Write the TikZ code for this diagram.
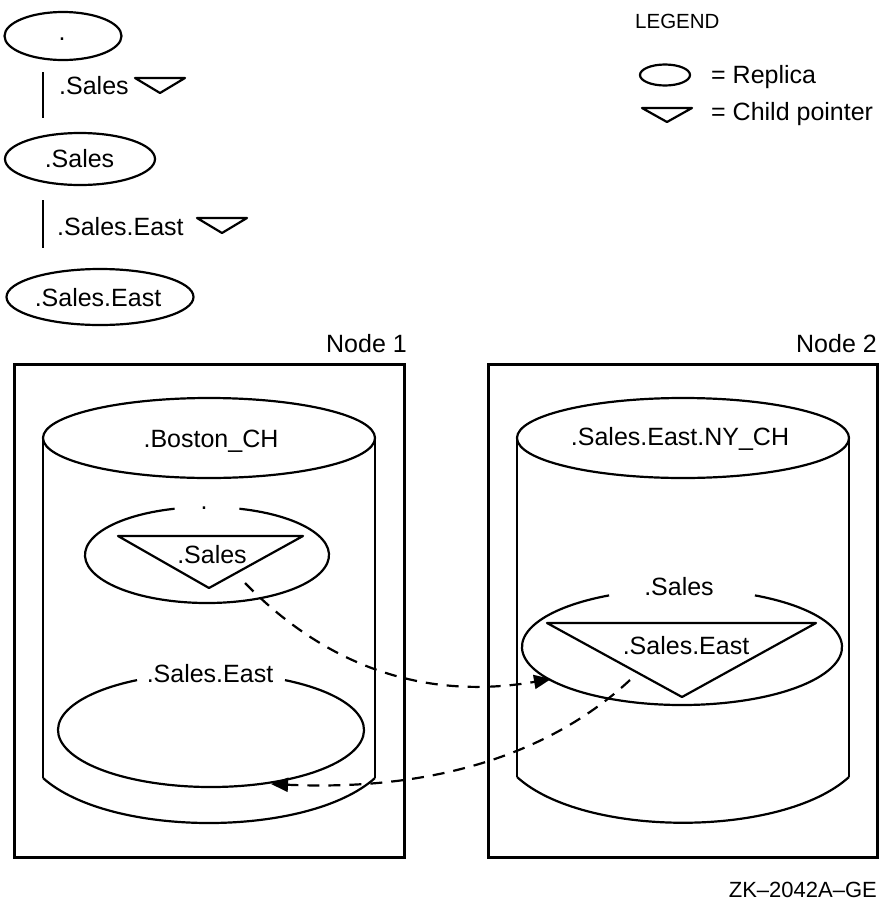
\documentclass[tikz,border=0pt]{standalone}
\usepackage{fontspec}
\setmainfont{Liberation Sans}
\usetikzlibrary{arrows.meta,shapes.geometric}
\begin{document}
\begin{tikzpicture}[x=1pt,y=-1pt,
  ln/.style={line width=2.2pt, line join=round},
  boxln/.style={line width=3pt},
  lbl/.style={font=\fontsize{25}{29}\selectfont, inner sep=0pt, anchor=base},
  repl/.style={draw, ellipse, line width=2.2pt, inner sep=0pt},
  dsh/.style={line width=2.2pt, dash pattern=on 12pt off 9pt, -{Triangle[length=17pt,width=14pt]}}]
\useasboundingbox (0,0) rectangle (880,900);

% ---------- tree on the top left ----------
\node[repl, minimum width=117pt, minimum height=48pt] (r0) at (63,36) {};
\node[lbl] (r0t) at (62,40) {.};
\draw[ln] (43,72) -- (43,118);
\node[lbl, anchor=base west] (p1) at (59,94) {.Sales};
\draw[ln] (135,78) -- (185,78) -- (160,93) -- cycle;
\node[repl, minimum width=150pt, minimum height=52pt] (r1) at (80,159) {};
\node[lbl] (r1t) at (79.5,167) {.Sales};
\draw[ln] (43,200) -- (43,248);
\node[lbl, anchor=base west] (p2) at (57,235) {.Sales.East};
\draw[ln] (197,218) -- (247,218) -- (222,233) -- cycle;
\node[repl, minimum width=187pt, minimum height=56pt] (r2) at (100,297) {};
\node[lbl] (r2t) at (98,306) {.Sales.East};

% ---------- legend ----------
\node[lbl, anchor=base west, font=\fontsize{20.5}{24}\selectfont] (leg) at (635,28) {LEGEND};
\node[repl, minimum width=50pt, minimum height=21pt] (legE) at (665,75) {};
\node[lbl, anchor=base west] (legEt) at (711,83) {= Replica};
\draw[ln] (642,108) -- (692,108) -- (667,122) -- cycle;
\node[lbl, anchor=base west] (legTt) at (711,120) {= Child pointer};

% ---------- Node 1 ----------
\node[lbl, anchor=base east] (n1) at (407,352) {Node 1};
\draw[boxln] (14,364) rectangle (404,857);
% cylinder
\draw[ln] (209,438) ellipse [x radius=166, y radius=40];
\draw[ln] (43,438) -- (43,778);
\draw[ln] (375,438) -- (375,778);
\draw[ln] (43,778) .. controls (110,838) and (308,838) .. (375,778);
\node[lbl] (bch) at (211,447) {.Boston\_CH};
% replica "."
\draw[ln] (207,555) ++(285.4:122 and 48) arc[start angle=285.4, end angle=614.6, x radius=122, y radius=48];
\node[lbl] (rootdot) at (204,509) {.};
\draw[ln] (118,536) -- (303,536) -- (209,588) -- cycle;
\node[lbl] (s1) at (212,563) {.Sales};
% replica ".Sales.East"
\draw[ln] (211,730) ++(298.9:153 and 57) arc[start angle=298.9, end angle=601.1, x radius=153, y radius=57];
\node[lbl] (se1) at (210,682) {.Sales.East};

% ---------- Node 2 ----------
\node[lbl, anchor=base east] (n2) at (877,352) {Node 2};
\draw[boxln] (488,364) rectangle (877,857);
\draw[ln] (683,438) ellipse [x radius=166, y radius=40];
\draw[ln] (517,438) -- (517,777);
\draw[ln] (849,438) -- (849,777);
\draw[ln] (517,777) .. controls (584,838) and (782,838) .. (849,777);
\node[lbl] (nych) at (680,445) {.Sales.East.NY\_CH};
% replica ".Sales"
\draw[ln] (682,647) ++(297.1:160 and 58) arc[start angle=297.1, end angle=602.9, x radius=160, y radius=58];
\node[lbl] (s2) at (679,595) {.Sales};
\draw[ln] (547,623) -- (816,623) -- (682,697) -- cycle;
\node[lbl] (se2) at (686,654) {.Sales.East};

% ---------- dashed pointers ----------
\coordinate (a1s) at (245,583);
\coordinate (a1e) at (551,679);
\coordinate (a2s) at (630,680);
\coordinate (a2e) at (271,784);
\draw[dsh] (a1s) .. controls (330,670) and (430,700) .. (a1e);
\draw[dsh] (a2s) .. controls (560,745) and (450,792) .. (a2e);

% ---------- figure id ----------
\node[lbl, anchor=base east, font=\fontsize{22}{26}\selectfont] (zk) at (877,897) {ZK--2042A--GE};
\end{tikzpicture}
\end{document}
